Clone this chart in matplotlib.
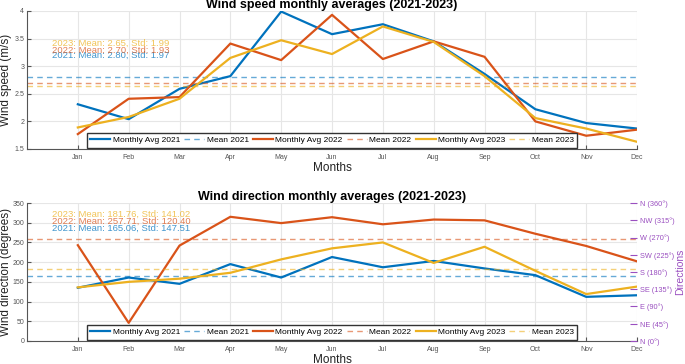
import numpy as np
import matplotlib.pyplot as plt

# Data
months = ['Jan', 'Feb', 'Mar', 'Apr', 'May', 'Jun', 'Jul', 'Aug', 'Sep', 'Oct', 'Nov', 'Dec']
years = ['2021', '2022', '2023']

speed_2021 = [2.31, 2.04, 2.59, 2.82, 3.99, 3.58, 3.76, 3.45, 2.86, 2.22, 1.97, 1.87]
speed_2022 = [1.77, 2.41, 2.44, 3.41, 3.11, 3.93, 3.13, 3.45, 3.17, 2.00, 1.74, 1.85]
speed_2023 = [1.89, 2.08, 2.41, 3.15, 3.47, 3.22, 3.72, 3.44, 2.82, 2.06, 1.87, 1.63]
speed_mean = [2.80, 2.70, 2.65]
speed_std = [1.97, 1.93, 1.99]

dir_2021 = [135, 161, 145, 195, 161, 213, 187, 203, 184, 167, 112, 116]
dir_2022 = [243, 46, 242, 315, 299, 314, 296, 308, 306, 272, 241, 202]
dir_2023 = [136, 150, 158, 173, 207, 235, 250, 198, 239, 178, 119, 138]
dir_mean = [165.06, 257.71, 181.76]
dir_std = [147.51, 120.40, 141.02]

dir_ticks = [0, 45, 90, 135, 180, 225, 270, 315, 360]
dir_labels = ['N (0°)', 'NE (45°)', 'E (90°)', 'SE (135°)', 'S (180°)',
              'SW (225°)', 'W (270°)', 'NW (315°)', 'N (360°)']

colors = [(0.0, 0.447, 0.741), (0.85, 0.325, 0.098), (0.929, 0.694, 0.125)]
purple = '#9a4fc0'
grey = '#555555'

plt.rcParams['font.family'] = ['Liberation Sans', 'DejaVu Sans']

x = np.arange(1, 13)

fig = plt.figure(figsize=(6.85, 3.64), dpi=100)
ax1 = fig.add_axes([0.0394, 0.5907, 0.8906, 0.3791])
ax2 = fig.add_axes([0.0394, 0.0632, 0.8906, 0.3791])


def style_axes(ax):
    ax.set_xlim(0, 12)
    ax.set_xticks(x)
    ax.set_xticklabels(months)
    ax.grid(True, color='#e6e6e6', linewidth=0.8)
    ax.set_axisbelow(True)
    for s in ['top', 'right']:
        ax.spines[s].set_visible(False)
    for s in ['left', 'bottom']:
        ax.spines[s].set_color(grey)
        ax.spines[s].set_linewidth(0.8)
    ax.tick_params(direction='in', length=3, labelsize=5, colors=grey)
    ax.tick_params(axis='x', pad=3.5)
    ax.tick_params(axis='y', pad=2)
    ax.set_xlabel('Months', fontsize=8.5, color='#222222', labelpad=1)
    ax.yaxis.set_label_coords(-0.025, 0.5)


def add_legend(ax):
    ax.legend(loc='lower center', bbox_to_anchor=(0.5, 0.0), ncol=6, fontsize=6,
              frameon=True, fancybox=False, edgecolor='#333333', handlelength=2.4,
              handletextpad=0.3, columnspacing=0.5, borderpad=0.4,
              borderaxespad=0.15, framealpha=1)


# Wind speed
for i, vals in enumerate([speed_2021, speed_2022, speed_2023]):
    ax1.plot(x, vals, color=colors[i], linewidth=1.6, label='Monthly Avg ' + years[i])
    ax1.axhline(speed_mean[i], color=colors[i], alpha=0.6, linestyle='--',
                linewidth=1.0, dashes=(4, 3), label='Mean ' + years[i])
style_axes(ax1)
ax1.set_ylim(1.5, 4)
ax1.set_yticks([1.5, 2, 2.5, 3, 3.5, 4])
ax1.set_yticklabels(['1.5', '2', '2.5', '3', '3.5', '4'])
ax1.set_ylabel('Wind speed (m/s)', fontsize=8.5, color='#222222')
ax1.set_title('Wind speed monthly averages (2021-2023)', fontsize=9, fontweight='bold', pad=0)
for i, yy in enumerate([3.20, 3.29, 3.41]):
    ax1.text(0.5, yy, f'{years[i]}: Mean: {speed_mean[i]:.2f}, Std: {speed_std[i]:.2f}',
             color=colors[i], alpha=0.75, fontsize=6.8, va='center')
add_legend(ax1)

# Wind direction
for i, vals in enumerate([dir_2021, dir_2022, dir_2023]):
    ax2.plot(x, vals, color=colors[i], linewidth=1.6, label='Monthly Avg ' + years[i])
    ax2.axhline(dir_mean[i], color=colors[i], alpha=0.6, linestyle='--',
                linewidth=1.0, dashes=(4, 3), label='Mean ' + years[i])
style_axes(ax2)
ax2.set_ylim(0, 350)
ax2.set_yticks(np.arange(0, 351, 50))
ax2.set_ylabel('Wind direction (degrees)', fontsize=8.5, color='#222222')
ax2.set_title('Wind direction monthly averages (2021-2023)', fontsize=9, fontweight='bold', pad=2)
for i, yy in enumerate([285, 303, 321]):
    ax2.text(0.5, yy, f'{years[i]}: Mean: {dir_mean[i]:.2f}, Std: {dir_std[i]:.2f}',
             color=colors[i], alpha=0.75, fontsize=6.8, va='center')
add_legend(ax2)

ax3 = ax2.twinx()
ax3.set_ylim(0, 360)
ax3.set_yticks(dir_ticks)
ax3.set_yticklabels(dir_labels)
ax3.tick_params(direction='in', length=5, labelsize=5.3, colors=purple, pad=2)
for s in ax3.spines.values():
    s.set_visible(False)
ax3.set_ylabel('Directions', fontsize=7.5, color=purple, labelpad=0.5)

fig.savefig('out.png', dpi=100)
